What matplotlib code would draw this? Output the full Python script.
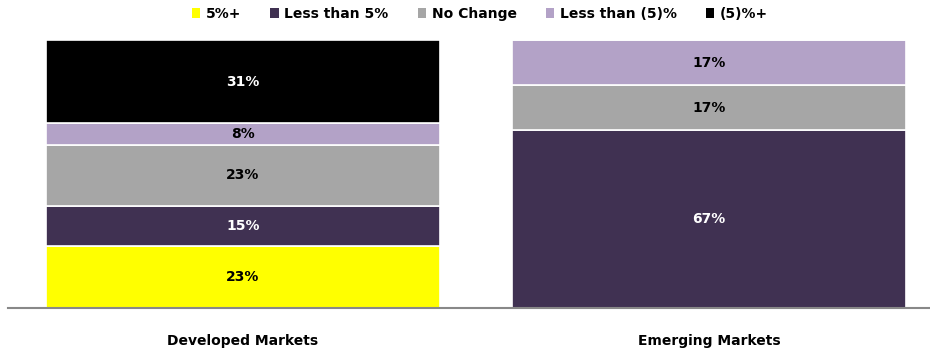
import numpy as np
import matplotlib.pyplot as plt
from matplotlib.patches import Rectangle

plt.rcParams['font.family'] = ['DejaVu Sans']

categories = ['Developed Markets', 'Emerging Markets']
series = ['5%+', 'Less than 5%', 'No Change', 'Less than (5)%', '(5)%+']
values = {
    '5%+': [23, 0],
    'Less than 5%': [15, 67],
    'No Change': [23, 17],
    'Less than (5)%': [8, 17],
    '(5)%+': [31, 0],
}
colors = ['#FFFF00', '#403152', '#A6A6A6', '#B3A2C7', '#000000']
text_colors = ['black', 'white', 'black', 'black', 'white']

fig = plt.figure(figsize=(9.3, 3.58), dpi=100)
ax = fig.add_axes([8 / 930, 50 / 358, 1 - 8 / 930, 268 / 358])

x = np.arange(len(categories))
# 100% stacked: scale each bar to its total
totals = np.sum([values[s] for s in series], axis=0).astype(float)
bottom = np.zeros(len(categories))
for s, c, tc in zip(series, colors, text_colors):
    v = np.array(values[s], dtype=float)
    h = v / totals * 100
    ax.bar(x, h, 0.845, bottom=bottom, color=c, edgecolor='white', linewidth=1.2)
    for xi, vi, hi, bi in zip(x, v, h, bottom):
        if vi > 0:
            ax.text(xi, bi + hi / 2, f'{int(vi)}%', ha='center', va='center',
                    color=tc, fontsize=10, fontweight='bold')
    bottom += h

ax.set_xlim(-0.504, 1.474)
ax.set_ylim(0, 100)
for sp in ['top', 'right', 'left']:
    ax.spines[sp].set_visible(False)
ax.spines['bottom'].set_color('#888888')
ax.spines['bottom'].set_linewidth(1.5)
ax.set_yticks([])
ax.set_xticks(x)
ax.set_xticklabels(categories, fontsize=10, fontweight='bold')
ax.tick_params(axis='x', length=0, pad=19)

handles = [Rectangle((0, 0), 1, 1, facecolor=c) for c in colors]
fig.legend(handles, series, loc='center', bbox_to_anchor=(0.516, 1 - 14 / 358), ncol=5,
           frameon=False, handlelength=0.6, handleheight=0.7, handletextpad=0.4,
           columnspacing=2.1, prop={'weight': 'bold', 'size': 10})

fig.savefig('out.png', dpi=100)
